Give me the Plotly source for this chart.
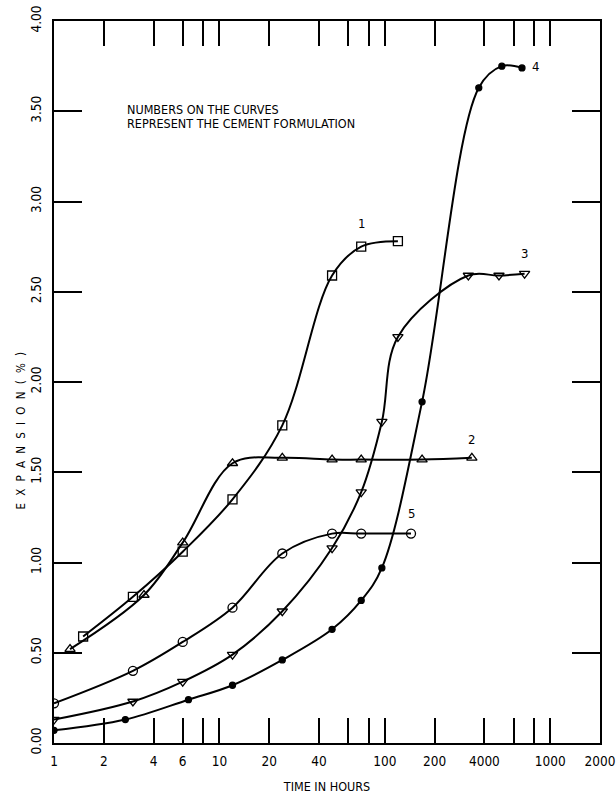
import plotly.graph_objects as go
import math

# ---- data ----
t1 = [1.5, 3, 6, 12, 24, 48, 72, 120]
v1 = [0.59, 0.81, 1.06, 1.35, 1.76, 2.59, 2.75, 2.78]

t2 = [1.25, 3.5, 6, 12, 24, 48, 72, 168, 336]
v2 = [0.52, 0.82, 1.11, 1.55, 1.58, 1.57, 1.57, 1.57, 1.58]

t3 = [1, 3, 6, 12, 24, 48, 72, 96, 120, 320, 490, 700]
v3 = [0.13, 0.23, 0.34, 0.49, 0.73, 1.08, 1.39, 1.78, 2.25, 2.59, 2.59, 2.60]

t4 = [1, 2.7, 6.5, 12, 24, 48, 72, 96, 168, 370, 510, 675]
v4 = [0.07, 0.13, 0.24, 0.32, 0.46, 0.63, 0.79, 0.97, 1.89, 3.63, 3.75, 3.74]

t5 = [1, 3, 6, 12, 24, 48, 72, 144]
v5 = [0.22, 0.40, 0.56, 0.75, 1.05, 1.16, 1.16, 1.16]

x_tickvals = [1, 2, 4, 6, 8, 10, 20, 40, 60, 80, 100, 200, 400, 600, 800, 1000, 2000]
x_ticktext = ["1", "2", "4", "6", "", "10", "20", "40", "", "", "100", "200", "4000", "", "", "1000", "2000"]
y_tickvals = [0, 0.5, 1.0, 1.5, 2.0, 2.5, 3.0, 3.5, 4.0]
y_ticktext = ["0.00", "0.50", "1.00", "1.50", "2.00", "2.50", "3.00", "3.50", "4.00"]

curve_labels = ["1", "2", "3", "4", "5"]
label_t = [72, 336, 700, 820, 144]
label_v = [2.88, 1.68, 2.71, 3.75, 1.27]

note_lines = ["NUMBERS ON THE CURVES", "REPRESENT THE CEMENT FORMULATION"]

FONT = "DejaVu Sans Condensed, Liberation Sans Narrow, sans-serif"
GAP = "\u2002\u2009"
y_title = GAP.join(list("EXPANSION()")).replace("(", "(" + GAP + "%")

series = [
    (t1, v1, "square-open", 9),
    (t2, v2, "triangle-up-open", 9),
    (t3, v3, "triangle-down-open", 9),
    (t4, v4, "circle", 6),
    (t5, v5, "circle-open", 9),
]

fig = go.Figure()
for (t, v, sym, sz), name in zip(series, curve_labels):
    fig.add_trace(go.Scatter(
        x=t, y=v, mode="lines+markers", name=name,
        line=dict(color="black", width=2, shape="spline", smoothing=1.0),
        marker=dict(symbol=sym, size=sz, color="black", line=dict(color="black", width=1.3)),
        showlegend=False,
    ))

for txt, tx, vy in zip(curve_labels, label_t, label_v):
    fig.add_annotation(x=math.log10(tx), y=vy, text=txt, showarrow=False,
                       font=dict(family=FONT, size=13, color="black"))

for line, py in zip(note_lines, [0.878, 0.858]):
    fig.add_annotation(xref="paper", yref="paper", x=0.13, y=py, xanchor="left", yanchor="middle",
                       text=line, showarrow=False, align="left",
                       font=dict(family=FONT, size=12.5, color="black"))

# y-axis title (placed as rotated text, as in the reference)
fig.add_annotation(xref="paper", yref="paper", x=-0.06, y=0.433, text=y_title,
                   xanchor="center", yanchor="middle",
                   textangle=-90, showarrow=False,
                   font=dict(family=FONT, size=11.5, color="black"))

fig.update_layout(
    width=616, height=794,
    margin=dict(l=54, r=16, t=21, b=51),
    plot_bgcolor="white", paper_bgcolor="white",
    font=dict(family=FONT, size=13, color="black"),
    xaxis=dict(
        type="log", range=[0, math.log10(2000)], automargin=False,
        tickmode="array", tickvals=x_tickvals, ticktext=x_ticktext,
        ticks="inside", ticklen=25, tickwidth=1.5, tickcolor="black",
        ticklabelstandoff=5, tickfont=dict(size=13.5),
        showline=True, linecolor="black", linewidth=1.5, mirror="ticks",
        showgrid=False, zeroline=False,
        title=dict(text="TIME IN HOURS", font=dict(family=FONT, size=12.5), standoff=16),
    ),
    yaxis=dict(
        range=[0, 4], automargin=False,
        tickmode="array", tickvals=y_tickvals, ticktext=y_ticktext, tickangle=-90,
        ticks="inside", ticklen=28, tickwidth=1.5, tickcolor="black",
        ticklabelstandoff=6, tickfont=dict(size=13.5),
        showline=True, linecolor="black", linewidth=1.5, mirror="ticks",
        showgrid=False, zeroline=False,
    ),
)

fig.write_html("out.html")
